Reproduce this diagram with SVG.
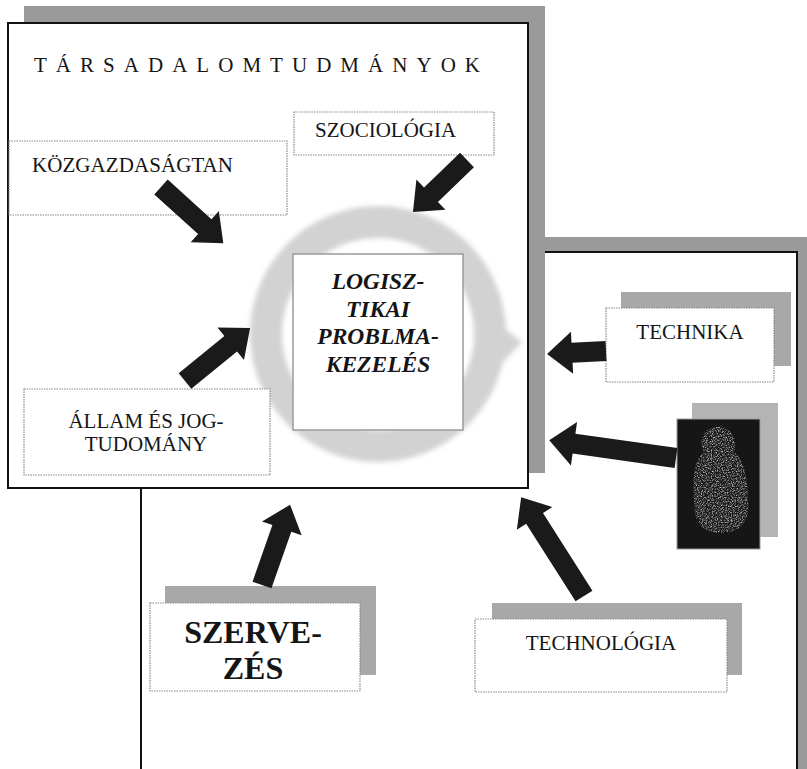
<svg xmlns="http://www.w3.org/2000/svg" width="807" height="769" viewBox="0 0 807 769">
<style>
.bg{fill:#ffffff}
.frame{fill:#ffffff;stroke:#111;stroke-width:2}
.bigshadow{fill:#9a9a9a}
.shadow{fill:#a8a8a8}
.lbl{fill:#ffffff;stroke:#8a8a8a;stroke-width:1.2;stroke-dasharray:1.5 1}
.t{font-family:"Liberation Serif","Times New Roman",serif;font-size:21px;fill:#151515}
.c{text-anchor:middle}
.big{font-weight:bold;font-size:32px}
.log{font-weight:bold;font-style:italic;font-size:23.5px}
.arr{fill:#1a1a1a}
</style>
<defs>
<filter id="soft" x="-10%" y="-10%" width="120%" height="120%"><feGaussianBlur stdDeviation="2.5"/></filter>
<filter id="speck" x="0" y="0" width="1" height="1">
<feTurbulence type="fractalNoise" baseFrequency="0.8" numOctaves="2" seed="5" result="n"/>
<feColorMatrix in="n" type="matrix" values="0 0 0 0 0.5  0 0 0 0 0.5  0 0 0 0 0.5  0 0 0 2.6 -1.1" result="g"/>
<feComposite in="g" in2="SourceAlpha" operator="in"/>
</filter>
</defs>
<rect class="bg" width="807" height="769"/>

<g id="box-outer">
<rect class="bigshadow" x="156" y="237" width="660" height="540"/>
<rect class="frame" x="141" y="252" width="656" height="530"/>
</g>

<g id="box-tarsadalom">
<rect class="bigshadow" x="24" y="6" width="521" height="467"/>
<rect class="frame" x="8" y="23" width="520" height="465"/>
<text class="t" x="34" y="72" font-size="24" textLength="446" lengthAdjust="spacing">TÁRSADALOMTUDMÁNYOK</text>
</g>

<g id="cycle" filter="url(#soft)">
<circle cx="378" cy="334" r="112" fill="none" stroke="#d2d2d2" stroke-width="32"/>
<polygon points="486,314 522,342 488,378" fill="#d2d2d2"/>
</g>

<g id="logisztika">
<rect x="293" y="254" width="170" height="176" fill="#ffffff" stroke="#9a9a9a" stroke-width="1.5"/>
<text class="t log c" x="378" y="289">LOGISZ-</text>
<text class="t log c" x="378" y="317">TIKAI</text>
<text class="t log c" x="378" y="344">PROBLMA-</text>
<text class="t log c" x="378" y="372">KEZELÉS</text>
</g>

<g id="szociologia">
<rect class="lbl" x="294" y="112" width="200" height="43"/>
<text class="t" x="315" y="137" font-size="20.5">SZOCIOLÓGIA</text>
</g>

<g id="kozgazdasagtan">
<rect class="lbl" x="9" y="141" width="278" height="74"/>
<text class="t" x="32" y="172" textLength="201">KÖZGAZDASÁGTAN</text>
</g>

<g id="allam">
<rect class="lbl" x="24" y="389" width="246" height="86"/>
<text class="t c" x="146" y="428">ÁLLAM ÉS JOG-</text>
<text class="t c" x="146" y="451">TUDOMÁNY</text>
</g>

<g id="technika">
<rect class="shadow" x="621" y="292" width="170" height="74"/>
<rect class="lbl" x="606" y="308" width="168" height="74"/>
<text class="t c" x="690" y="339" font-size="21.5">TECHNIKA</text>
</g>

<g id="kep">
<rect fill="#b4b4b4" x="692" y="403" width="86" height="134"/>
<rect fill="#161616" stroke="#9a9a9a" stroke-width="1" x="677" y="419" width="83" height="130"/>
<path d="M712,428 C700,432 700,445 704,452 C694,460 692,480 694,500 C694,520 700,533 720,533 C742,533 750,520 748,500 C748,478 744,460 734,452 C738,442 732,428 720,426 Z" fill="#777" filter="url(#speck)"/>
</g>

<g id="szervezes">
<rect class="shadow" x="165" y="586" width="211" height="89"/>
<rect class="lbl" x="150" y="603" width="210" height="88"/>
<text class="t big c" x="253" y="643">SZERVE-</text>
<text class="t big c" x="253" y="679">ZÉS</text>
</g>

<g id="technologia">
<rect class="shadow" x="492" y="603" width="250" height="72"/>
<rect class="lbl" x="475" y="619" width="252" height="73"/>
<text class="t c" x="601" y="650" font-size="22">TECHNOLÓGIA</text>
</g>

<g id="connectors">
<path class="arr" transform="translate(161,187) rotate(42.1)" d="M0,-10H59V-21L84,0L59,21V10H0Z"/>
<path class="arr" transform="translate(467,160) rotate(136.1)" d="M0,-10H50V-21L75,0L50,21V10H0Z"/>
<path class="arr" transform="translate(185,381) rotate(-39.2)" d="M0,-10H59V-21L84,0L59,21V10H0Z"/>
<path class="arr" transform="translate(606,351) rotate(177)" d="M0,-10H34V-21L59,0L34,21V10H0Z"/>
<path class="arr" transform="translate(676,458) rotate(-172)" d="M0,-10H103V-22L128,0L103,22V10H0Z"/>
<path class="arr" transform="translate(262,585) rotate(-70.7)" d="M0,-10H60V-21L85,0L60,21V10H0Z"/>
<path class="arr" transform="translate(584,596) rotate(-122.5)" d="M0,-10H92V-21L117,0L92,21V10H0Z"/>
</g>
</svg>
